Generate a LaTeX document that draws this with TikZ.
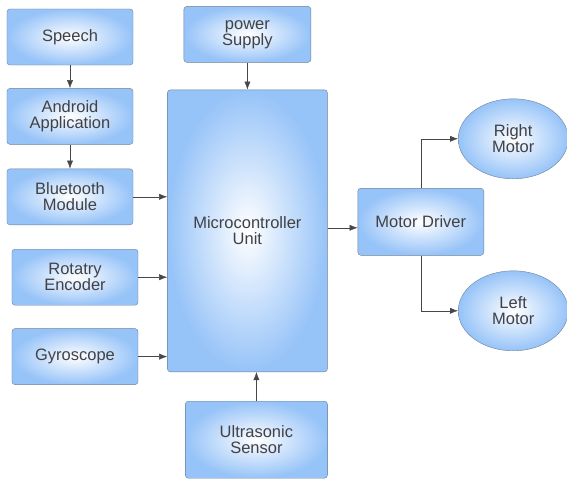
\documentclass[tikz,border=0pt]{standalone}
\usepackage{fontspec}
\setmainfont{Liberation Sans}
\usepackage{tikz}
\usetikzlibrary{shapes.geometric, arrows.meta, positioning}
\definecolor{boxblue}{RGB}{150,195,248}
\definecolor{boxline}{RGB}{110,128,150}
\definecolor{txtgray}{RGB}{65,65,70}
\definecolor{arrowgray}{RGB}{70,70,70}
\tikzstyle{block} = [rectangle, minimum width=126pt, minimum height=56pt, text centered, align=center, draw=boxline, rounded corners=3pt, inner color=white, outer color=boxblue, text=txtgray]
\tikzstyle{motor} = [ellipse, minimum width=110pt, minimum height=80pt, text centered, align=center, draw=boxline, inner color=white, outer color=boxblue, text=txtgray]
\tikzstyle{arrow} = [->,>={Latex[length=8pt,width=6pt]}, draw=arrowgray]

\begin{document}
\begin{tikzpicture}[font=\fontsize{16.5}{16}\selectfont]

\useasboundingbox (-70pt,37pt) rectangle (497pt,-442pt);

% Inputs on the left
\node (speech) [block] {Speech};
\node (android) [block, below=23pt of speech] {Android\\Application};
\node (bluetooth) [block, below=24pt of android] {Bluetooth\\Module};
\node (encoder) [block, below=24pt of bluetooth, xshift=5pt] {Rotatry\\Encoder};
\node (gyro) [block, below=23pt of encoder] {Gyroscope};

% Controller
\node (mcu) [block, minimum width=160pt, minimum height=282pt, right=34pt of bluetooth, yshift=-34pt] {Microcontroller\\Unit};
\node (power) [block, minimum width=127pt, above=27pt of mcu] {power\\Supply};
\node (ultra) [block, minimum width=142pt, minimum height=77pt, below=29pt of mcu, xshift=9pt] {Ultrasonic\\Sensor};

% Outputs
\node (driver) [block, minimum height=67pt, right=30pt of mcu, yshift=9pt] {Motor Driver};
\node (rmotor) [motor, right=-26pt of driver, yshift=83pt] {Right\\Motor};
\node (lmotor) [motor, right=-26pt of driver, yshift=-89pt] {Left\\Motor};

% Arrows
\draw [arrow] (speech) -- (android);
\draw [arrow] (android) -- (bluetooth);
\draw [arrow] (bluetooth.east) -- (bluetooth.east -| mcu.west);
\draw [arrow] (encoder.east) -- (encoder.east -| mcu.west);
\draw [arrow] (gyro.east) -- (gyro.east -| mcu.west);
\draw [arrow] (power.south) -- (power.south |- mcu.north);
\draw [arrow] (ultra.north) -- (ultra.north |- mcu.south);
\draw [arrow] ([yshift=-6pt]driver.west -| mcu.east) -- ([yshift=-6pt]driver.west);
\draw [arrow] (driver.north) |- (rmotor.west);
\draw [arrow] (driver.south) |- (lmotor.west);

\end{tikzpicture}
\end{document}
